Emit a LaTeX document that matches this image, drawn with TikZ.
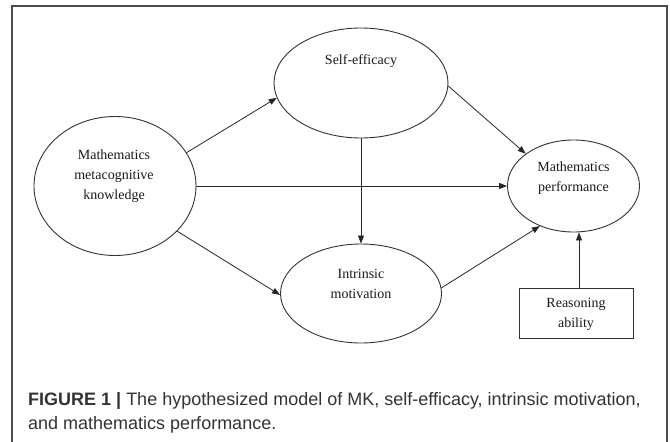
\documentclass[tikz,border=0pt]{standalone}
\usepackage{fontspec}
\setmainfont{Liberation Serif}
\newfontfamily\capfont{Liberation Sans}
\usetikzlibrary{shapes.geometric,arrows.meta}
\begin{document}
\begin{tikzpicture}[x=1pt,y=-1pt,
  oval/.style={ellipse,draw=black!80,line width=0.9pt,inner sep=0pt},
  lbl/.style={align=center,font=\fontsize{14}{20}\selectfont,text=black!90,inner sep=0pt},
  arr/.style={draw=black!85,line width=0.8pt,-{Triangle[length=8pt,width=6pt]}},
  boxed/.style={rectangle,draw=black!80,line width=0.9pt,inner sep=0pt},
  captxt/.style={anchor=base west,inner sep=0pt,font=\capfont\fontsize{18}{24}\selectfont,text=black!80}]
\useasboundingbox (0,0) rectangle (670,442);
\draw[black!70,line width=1.3pt] (12,6) rectangle (667,470);
% ellipses
\node[oval,minimum width=162pt,minimum height=139pt] (mk) at (115,186) {};
\node[oval,minimum width=174pt,minimum height=110pt] (se) at (361,83) {};
\node[oval,minimum width=132pt,minimum height=92pt] (mp) at (573.5,186) {};
\node[oval,minimum width=161pt,minimum height=99pt] (im) at (361,293.5) {};
\node[boxed,minimum width=114pt,minimum height=50pt] (ra) at (576,313) {};
% labels
\node[lbl] (mkt) at (114,176) {Mathematics\\metacognitive\\knowledge};
\node[lbl] (set) at (361,61) {Self-efficacy};
\node[lbl] (mpt) at (573.5,178) {Mathematics\\performance};
\node[lbl] (imt) at (361,284) {Intrinsic\\motivation};
\node[lbl] (rat) at (576,314) {Reasoning\\ability};
% connectors
\coordinate (rtop) at ([xshift=3pt]ra.north);
\draw[arr] (mk.25) -- (se.190);
\draw[arr] (se.-2) -- (mp.146);
\draw[arr] (mk.east) -- (mp.west);
\draw[arr] (se.south) -- (im.north);
\draw[arr] (mk.-36) -- (im.181);
\draw[arr] (im.4) -- (mp.230);
\draw[arr] (rtop) -- (rtop |- mp.south);
% caption
\node[captxt] (cap1) at (28,405) {\textbf{FIGURE 1 |} The hypothesized model of MK, self-efficacy, intrinsic motivation,};
\node[captxt] (cap2) at (28,429) {and mathematics performance.};
\end{tikzpicture}
\end{document}
